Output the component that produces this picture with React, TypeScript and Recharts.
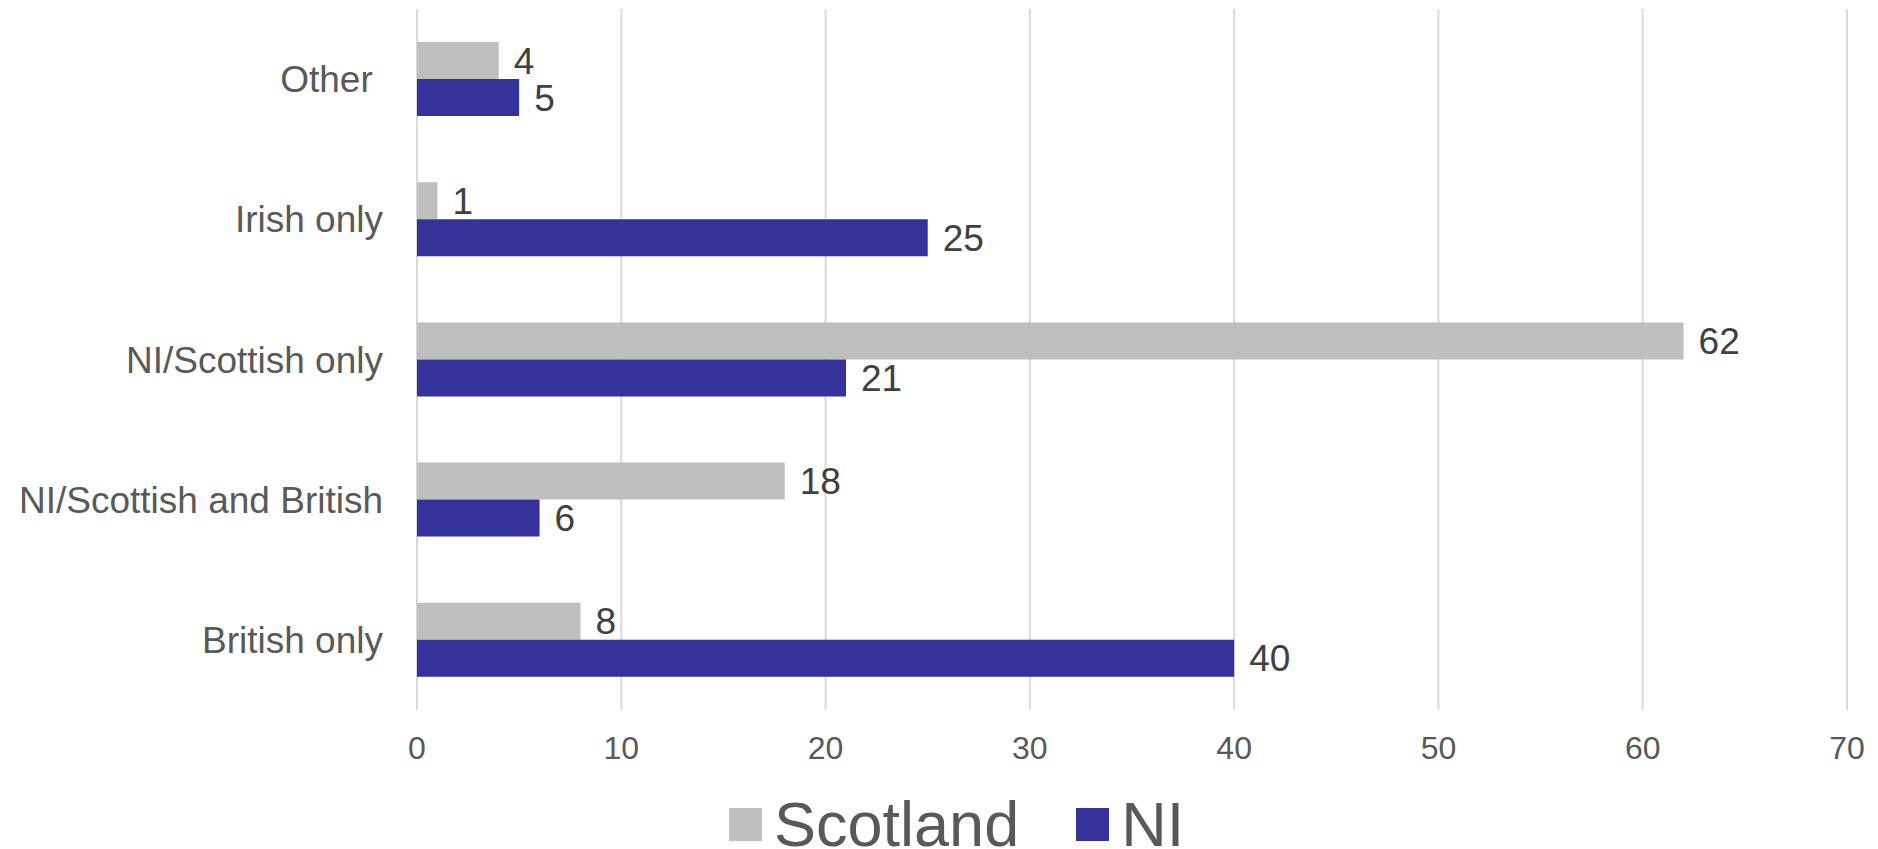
import React from "react";
import { BarChart, Bar, XAxis, YAxis, CartesianGrid, Legend, LabelList } from "recharts";

const categories = ["Other\u00a0", "Irish only", "NI/Scottish only", "NI/Scottish and British", "British only"];
const seriesNames = ["Scotland", "NI"];
const scotland = [4, 1, 62, 18, 8];
const ni = [5, 25, 21, 6, 40];
const xTicks = [0, 10, 20, 30, 40, 50, 60, 70];

const data = categories.map((c, i) => ({ category: c, Scotland: scotland[i], NI: ni[i] }));

const FONT = '"Liberation Sans", Arial, sans-serif';

const renderLegend = (props: any) => {
  const payload = [...(props.payload || [])].sort(
    (a: any, b: any) => seriesNames.indexOf(a.value) - seriesNames.indexOf(b.value)
  );
  return (
    <div style={{ display: "flex", alignItems: "center", height: 44, paddingLeft: 721, fontFamily: FONT }}>
      {payload.map((p: any, i: number) => (
        <div key={i} style={{ display: "flex", alignItems: "center", marginRight: i === 0 ? 57 : 0 }}>
          <div style={{ width: 33, height: 33, background: p.color, marginRight: 12 }} />
          <span style={{ fontSize: 63, lineHeight: "44px", color: "#595959" }}>{p.value}</span>
        </div>
      ))}
    </div>
  );
};

export default function App() {
  return (
    <div>
      <style>{"body{overflow:hidden}"}</style>
      <BarChart
        width={1862}
        height={841}
        data={data}
        layout="vertical"
        margin={{ top: 1, right: 23, left: 0, bottom: 0 }}
        barGap={0}
        style={{ fontFamily: FONT }}
      >
        <CartesianGrid horizontal={false} stroke="#D9D9D9" strokeWidth={2} />
        <XAxis
          type="number"
          domain={[0, 70]}
          ticks={xTicks}
          axisLine={false}
          tickLine={false}
          height={139}
          tickMargin={20}
          tick={{ fontSize: 32, fill: "#595959", fontFamily: FONT }}
          interval={0}
        />
        <YAxis
          type="category"
          dataKey="category"
          width={409}
          axisLine={false}
          tickLine={false}
          tickMargin={28}
          tick={{ fontSize: 37, fill: "#595959", fontFamily: FONT }}
          interval={0}
        />
        <Legend
          verticalAlign="middle"
          wrapperStyle={{ top: 794, left: 0, width: 1862, height: 44 }}
          content={renderLegend}
        />
        <Bar dataKey="Scotland" fill="#BFBFBF" barSize={37} isAnimationActive={false}>
          <LabelList dataKey="Scotland" position="right" offset={15} fill="#404040" fontSize={37} fontFamily={FONT} />
        </Bar>
        <Bar dataKey="NI" fill="#333399" barSize={37} isAnimationActive={false}>
          <LabelList dataKey="NI" position="right" offset={15} fill="#404040" fontSize={37} fontFamily={FONT} />
        </Bar>
      </BarChart>
    </div>
  );
}
